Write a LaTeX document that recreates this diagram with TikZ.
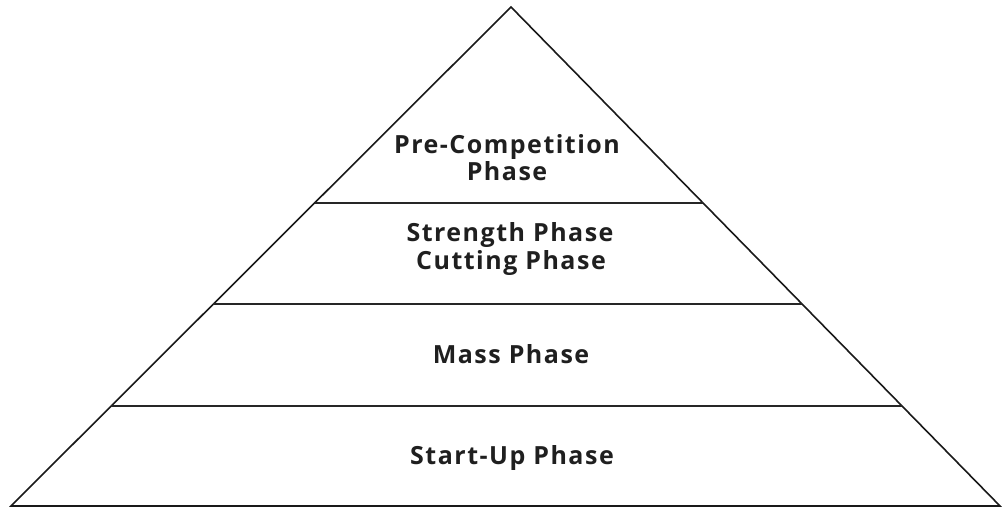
\documentclass[tikz,border=0pt]{standalone}
\usepackage{fontspec}
\setmainfont[LetterSpace=6]{Open Sans}
\usetikzlibrary{calc}

\begin{document}
\begin{tikzpicture}[x=1pt,y=1pt,semithick]
\tikzstyle{every node}=[font=\fontsize{25pt}{27pt}\bfseries\selectfont,text=black!88,anchor=base,inner sep=0pt]
\tikzset{edge/.style={line width=1.6pt,black!90,line join=miter},
         band/.style={line width=1.6pt,black!85}}

        \useasboundingbox (0,0) rectangle (1002,508);

        \coordinate (L) at (11,2);
        \coordinate (R) at (1000,2);
        \coordinate (A) at (511,501);

        % band ends on both sides
        \coordinate (l1) at ($(L)!0.2004!(A)$);
        \coordinate (r1) at ($(R)!0.2004!(A)$);
        \coordinate (l2) at ($(L)!0.4048!(A)$);
        \coordinate (r2) at ($(R)!0.4048!(A)$);
        \coordinate (l3) at ($(L)!0.6072!(A)$);
        \coordinate (r3) at ($(R)!0.6072!(A)$);

        \draw[edge] (L) -- (A) -- (R) -- cycle;
        \draw[band] (l1) -- (r1);
        \draw[band] (l2) -- (r2);
        \draw[band] (l3) -- (r3);

        \node (start)    at (512,43)  {Start-Up Phase};
        \node (mass)     at (511,144) {Mass Phase};
        \node (strength) at (510,266) {Strength Phase};
        \node (cutting)  at (511,238) {Cutting Phase};
        \node (precomp)  at (507,354) {Pre-Competition};
        \node (phase)    at (507,327) {Phase};

\end{tikzpicture}
\end{document}
